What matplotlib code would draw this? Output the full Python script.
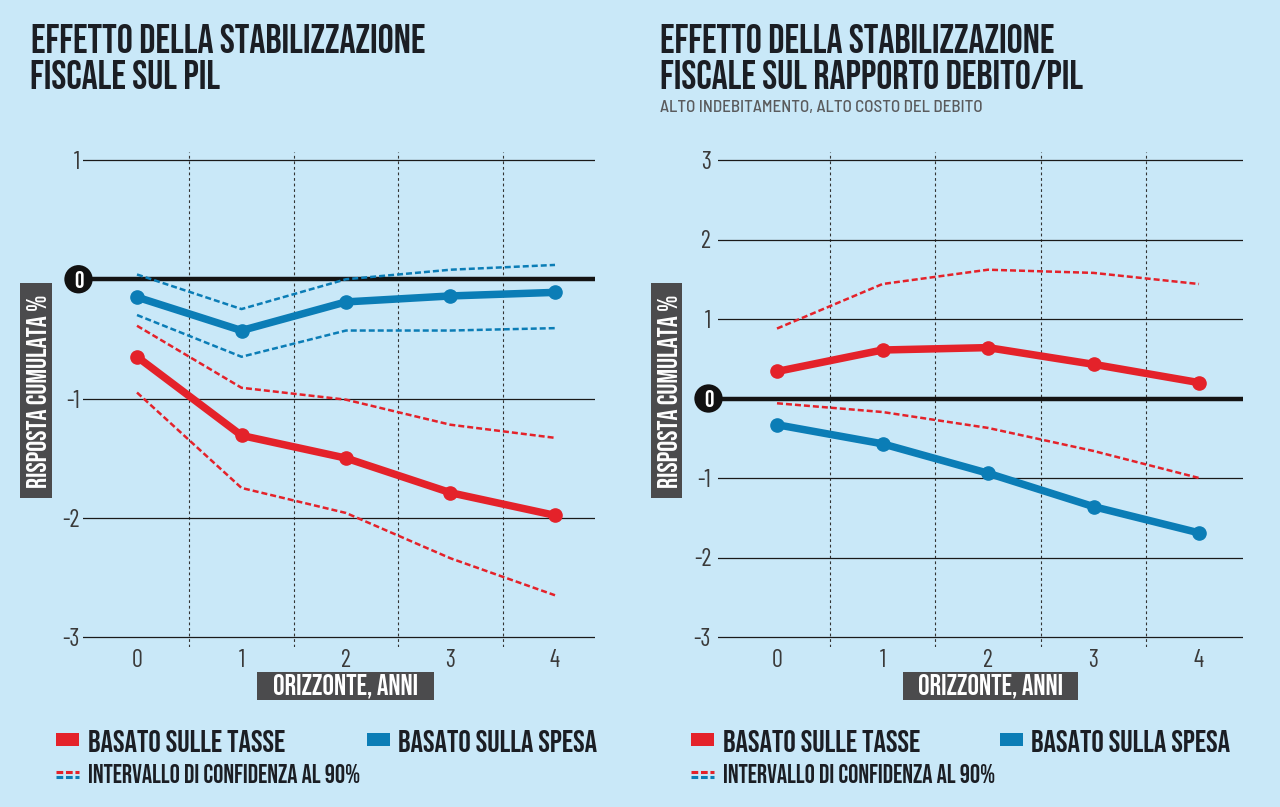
"""
Effetto della stabilizzazione fiscale: PIL e rapporto debito/PIL
"""
import matplotlib
matplotlib.use("Agg")
import matplotlib.pyplot as plt
from matplotlib import font_manager as fm
from matplotlib.patches import Rectangle
from matplotlib.lines import Line2D

# --- dati ---
anni = [0, 1, 2, 3, 4]

# pannello sinistro: PIL
pil_tasse = [-0.65, -1.31, -1.50, -1.79, -1.98]
pil_tasse_alto = [-0.39, -0.91, -1.01, -1.22, -1.33]
pil_tasse_basso = [-0.95, -1.75, -1.96, -2.34, -2.65]
pil_spesa = [-0.15, -0.43, -0.19, -0.14, -0.11]
pil_spesa_alto = [0.04, -0.25, 0.0, 0.08, 0.12]
pil_spesa_basso = [-0.30, -0.65, -0.43, -0.43, -0.41]

# pannello destro: rapporto debito/PIL
deb_tasse = [0.34, 0.61, 0.64, 0.43, 0.20]
deb_tasse_alto = [0.88, 1.44, 1.62, 1.58, 1.44]
deb_tasse_basso = [-0.06, -0.17, -0.37, -0.66, -1.00]
deb_spesa = [-0.33, -0.57, -0.94, -1.36, -1.69]

yticks_pil = [-3, -2, -1, 0, 1]
yticks_deb = [-3, -2, -1, 0, 1, 2, 3]

ROSSO = "#e4222a"
BLU = "#0b7db6"
SFONDO = "#c9e8f8"
GRIGIO = "#4b4b4d"
SCURO = "#1b1e24"

installed = set(f.name for f in fm.fontManager.ttflist)
# font "tipo DIN condensed" se c'e', altrimenti si ripiega
TIT = [f for f in ["Bebas Neue", "Barlow Condensed"] if f in installed] + ["DejaVu Sans"]
TXT = [f for f in ["Barlow Condensed"] if f in installed] + ["DejaVu Sans"]
SUB = [f for f in ["Barlow Semi Condensed", "Barlow Condensed"] if f in installed] + ["DejaVu Sans"]
plt.rcParams["font.family"] = TXT

W, H = 1280, 807
fig = plt.figure(figsize=(W / 100, H / 100), dpi=100, facecolor=SFONDO)
rend = fig.canvas.get_renderer()

def fx(px):
    return px / W

def fy(py):
    return 1 - py / H

def fit(t, width_px):
    # adatta la dimensione del testo alla larghezza misurata sull'originale
    w = t.get_window_extent(rend).width
    t.set_fontsize(t.get_fontsize() * width_px / w)
    return t.get_fontsize()

def testo(x, y, s, width_px=None, size=20, **kw):
    t = fig.text(fx(x), fy(y), s, family=TIT, fontsize=size, va="baseline", **kw)
    if width_px:
        fit(t, width_px)
    return t

def pannello(left, right, x0px, upx, y_top_val, upy, yticks, ypad, badge_dx):
    top, bot = 152, 647
    ax = fig.add_axes([fx(left), fy(bot), fx(right - left), (bot - top) / H])
    ax.set_facecolor("none")
    ax.set_xlim((left - x0px) / upx, (right - x0px) / upx)
    ax.set_ylim(y_top_val - (bot - 160) / upy, y_top_val + 8 / upy)
    for s in ax.spines.values():
        s.set_visible(False)
    for v in [0.5, 1.5, 2.5, 3.5]:
        ax.axvline(v, color="#333333", lw=0.8, ls=(0, (2.5, 2.5)), zorder=1)
    for t in yticks:
        if t == 0:
            ax.axhline(t, color="#141414", lw=3.2, zorder=2)
        else:
            ax.axhline(t, color="#1a1a1a", lw=0.9, zorder=2)
    ax.set_xticks(anni)
    ax.set_xticklabels([str(a) for a in anni])
    ax.set_yticks(yticks)
    ax.set_yticklabels(["" if t == 0 else str(t) for t in yticks])
    ax.tick_params(length=0, labelsize=17.5, labelcolor="#3a3a3a", pad=1.5)
    ax.tick_params(axis="y", pad=ypad)
    ax.annotate("0", xy=(0, 0), xycoords=("axes fraction", "data"),
                xytext=(badge_dx * 0.72, 0), textcoords="offset points",
                ha="center", va="center", family=TIT, fontsize=17, color="white",
                fontweight="bold", zorder=6,
                bbox=dict(boxstyle="circle,pad=0.24", fc="#111111", ec="none"))
    return ax

def serie(ax, y, col):
    ax.plot(anni, y, color=col, lw=5.4, marker="o", ms=9.5, zorder=5,
            solid_capstyle="round", solid_joinstyle="round")

def banda(ax, y, col):
    ax.plot(anni, y, color=col, lw=1.8, ls=(0, (2.4, 1.2)), zorder=4)

# pannello sinistro
ax1 = pannello(83, 595, 137, 104.5, 1, 119.25, yticks_pil, 2.2, -4.5)
banda(ax1, pil_spesa_alto, BLU)
banda(ax1, pil_spesa_basso, BLU)
banda(ax1, pil_tasse_alto, ROSSO)
banda(ax1, pil_tasse_basso, ROSSO)
serie(ax1, pil_spesa, BLU)
serie(ax1, pil_tasse, ROSSO)

# pannello destro
ax2 = pannello(718, 1243, 777, 105.5, 3, 79.5, yticks_deb, 5, -9.5)
banda(ax2, deb_tasse_alto, ROSSO)
banda(ax2, deb_tasse_basso, ROSSO)
serie(ax2, deb_tasse, ROSSO)
serie(ax2, deb_spesa, BLU)

# titoli
ts = fit(testo(31, 53, "EFFETTO DELLA STABILIZZAZIONE", color=SCURO), 393)
testo(30, 89, "FISCALE SUL PIL", size=ts, color=SCURO)
testo(660, 53, "EFFETTO DELLA STABILIZZAZIONE", size=ts, color=SCURO)
testo(660, 89, "FISCALE SUL RAPPORTO DEBITO/PIL", size=ts, color=SCURO)
sub = fig.text(fx(660), fy(112), "ALTO INDEBITAMENTO, ALTO COSTO DEL DEBITO",
               family=SUB, fontsize=13, fontweight="medium", color="#5a5b5d",
               va="baseline")
fit(sub, 320)

# etichette assi (riquadri grigi)
for x0, x1 in [(20, 52), (651, 682)]:
    fig.patches.append(Rectangle((fx(x0), fy(498)), fx(x1 - x0), 215 / H, fc=GRIGIO,
                                 ec="none", transform=fig.transFigure))
    t = fig.text(fx((x0 + x1) / 2 + 1), fy(391), "RISPOSTA CUMULATA %", rotation=90,
                 ha="center", va="center", family=TIT, fontsize=18, color="white")
    fit_h = t.get_window_extent(rend).height
    t.set_fontsize(18 * 193 / fit_h)
for x0, x1 in [(257, 434), (903, 1078)]:
    fig.patches.append(Rectangle((fx(x0), fy(700)), fx(x1 - x0), 28 / H, fc=GRIGIO,
                                 ec="none", transform=fig.transFigure))
    t = fig.text(fx((x0 + x1) / 2), fy(694), "ORIZZONTE, ANNI", ha="center",
                 va="baseline", family=TIT, fontsize=18, color="white")
    fit(t, 145)

# legende
def legenda(x0, xb):
    fig.patches.append(Rectangle((fx(x0), fy(746)), fx(23), 13 / H, fc=ROSSO,
                                 ec="none", transform=fig.transFigure))
    ls = fit(testo(x0 + 32, 752, "BASATO SULLE TASSE", color=SCURO), 198)
    fig.patches.append(Rectangle((fx(xb), fy(746)), fx(23), 13 / H, fc=BLU,
                                 ec="none", transform=fig.transFigure))
    testo(xb + 31, 752, "BASATO SULLA SPESA", size=ls, color=SCURO)
    for yy, col in [(772, ROSSO), (777, BLU)]:
        fig.lines.append(Line2D([fx(x0), fx(x0 + 23)], [fy(yy), fy(yy)], color=col,
                                lw=2.2, ls=(0, (2.2, 0.9)), transform=fig.transFigure))
    fit(testo(x0 + 32, 783, "INTERVALLO DI CONFIDENZA AL 90%", color=SCURO), 273)

legenda(56, 367)
legenda(691, 1000)

fig.savefig("out.png", dpi=100, facecolor=SFONDO)
